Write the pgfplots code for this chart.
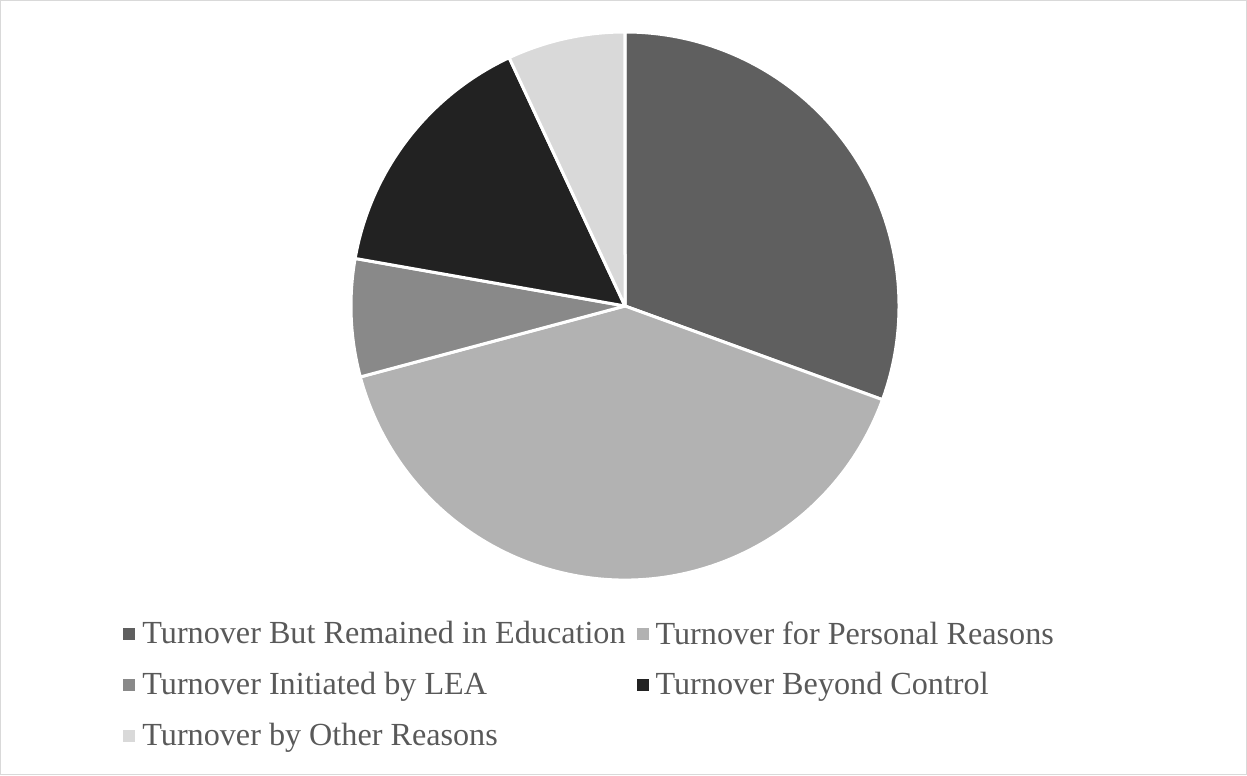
\documentclass[border=0pt]{standalone}
\usepackage{pgfplots}
\pgfplotsset{compat=1.18}
\usepackage{fontspec}
\setmainfont{Liberation Serif}
\definecolor{c1}{HTML}{5F5F5F}
\definecolor{c2}{HTML}{B2B2B2}
\definecolor{c3}{HTML}{898989}
\definecolor{c4}{HTML}{222222}
\definecolor{c5}{HTML}{D9D9D9}
\definecolor{textgray}{HTML}{595959}
\definecolor{bordergray}{HTML}{D9D9D9}
\newcommand\legfont{\fontsize{16.15}{18.5}\selectfont}
\begin{document}
\begin{tikzpicture}
\begin{axis}[x=0.5bp, y=0.5bp, xmin=0, xmax=1247, ymin=0, ymax=775,
  hide axis, clip=false,
  legend style={at={(axis cs:117,161)}, anchor=north west, draw=none, fill=none,
    font=\legfont, text=textgray, legend columns=2,
    nodes={inner sep=1.5bp},
    /tikz/every even column/.append style={column sep=4bp},
    row sep=9.75bp},
  legend cell align=left,
  legend image code/.code={\fill[#1, draw=none] (0bp,-3bp) rectangle (6bp,3bp);
    \path[draw=none, fill=none] (0bp,0bp) -- (8bp,0bp);}
]
\draw[bordergray, line width=0.5bp] (axis cs:0.5,0.5) rectangle (axis cs:1246.5,774.5);
\def\slices{22/c1,29/c2,5/c3,11/c4,5/c5}
\gdef\curang{90}
\foreach \v/\c in \slices {
  \pgfmathsetmacro\endang{\curang - \v/72*360}
  \edef\doslice{\noexpand\fill[\c, draw=white, line width=1.5bp, line join=round]
    (axis cs:625,469) -- ++(\curang:137bp) arc[start angle=\curang, end angle=\endang, radius=137bp] -- cycle;}
  \doslice
  \xdef\curang{\endang}
}
\addlegendimage{fill=c1}\addlegendentry{Turnover But Remained in Education}
\addlegendimage{fill=c2}\addlegendentry{Turnover for Personal Reasons}
\addlegendimage{fill=c3}\addlegendentry{Turnover Initiated by LEA}
\addlegendimage{fill=c4}\addlegendentry{Turnover Beyond Control}
\addlegendimage{fill=c5}\addlegendentry{Turnover by Other Reasons}
\end{axis}
\end{tikzpicture}
\end{document}
